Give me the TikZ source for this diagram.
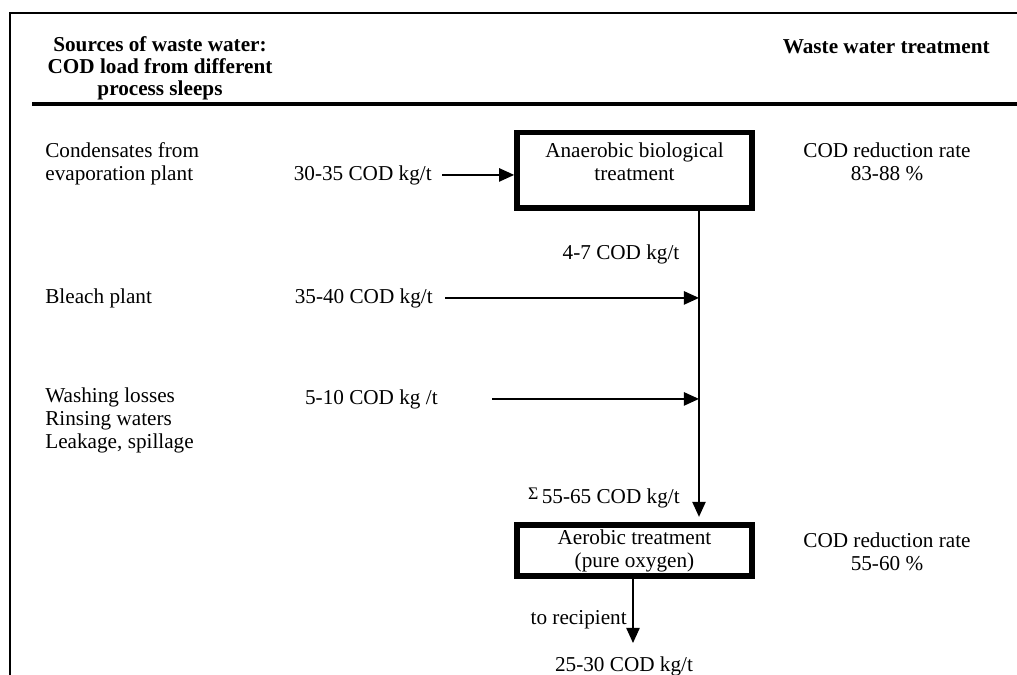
\documentclass[tikz,border=0pt]{standalone}
\usepackage{fontspec}
\setmainfont{Liberation Serif}
\usetikzlibrary{arrows.meta}
\begin{document}
\begin{tikzpicture}[x=0.566pt,y=-0.566pt,
  txt/.style={font=\fontsize{12pt}{13pt}\selectfont, inner sep=0pt},
  hdr/.style={font=\fontsize{12pt}{12.2pt}\selectfont\bfseries, inner sep=0pt, align=center},
  flow/.style={line width=0.9pt, -{Triangle[length=8.5pt,width=7.5pt]}},
  bigbox/.style={draw, line width=3.2pt, inner sep=0pt, minimum width=133pt},
  frameline/.style={line width=0.8pt},
  rule/.style={line width=2.8pt}
]
\useasboundingbox (0,0) rectangle (1017,675);
% frame and header rule
\draw[frameline] (10,675) -- (10,13) -- (1017,13);
\draw[rule] (32,104) -- (1017,104);
% headers (base anchor = baseline of the last line)
\node[hdr, anchor=base] (hleft) at (160,95) {Sources of waste water:\\COD load from different\\process sleeps};
\node[hdr, anchor=base east] (hright) at (990,53) {Waste water treatment};
% trunk coordinates
\coordinate (trunk) at (699,0);
\coordinate (outend) at (633,643);
% boxes
\node[bigbox, minimum height=42.7pt] (anaerobic) at (634.5,170.2) {};
\node[txt, align=center, anchor=base] (anaerobictext) at (634.5,180) {Anaerobic biological\\treatment};
\node[bigbox, minimum height=28.9pt, txt, align=center, draw, line width=3.2pt] (aerobic) at (634.5,550.5) {Aerobic treatment\\(pure oxygen)};
% sources
\node[txt, anchor=base west, align=left] (src1) at (45,180) {Condensates from\\evaporation plant};
\node[txt, anchor=base west] (src2) at (45,303) {Bleach plant};
\node[txt, anchor=base west, align=left] (src3) at (45,448) {Washing losses\\Rinsing waters\\Leakage, spillage};
% loads
\node[txt, anchor=base east] (load1) at (432,180) {30-35 COD kg/t};
\node[txt, anchor=base east] (load2) at (433,303) {35-40 COD kg/t};
\node[txt, anchor=base east] (load3) at (438,404) {5-10 COD kg /t};
\node[txt, anchor=base] (load4) at (621,259) {4-7 COD kg/t};
\node[txt, anchor=base east] (sum) at (680,503) {\raisebox{2.2pt}{\fontsize{10pt}{10pt}\selectfont Σ}\,55-65 COD kg/t};
\node[txt, anchor=base east] (recip) at (627,624) {to recipient};
\node[txt, anchor=base] (final) at (624,671) {25-30 COD kg/t};
% reduction rates
\node[txt, align=center, anchor=base] (rate1) at (887,180) {COD reduction rate\\83-88 \%};
\node[txt, align=center, anchor=base] (rate2) at (887,570) {COD reduction rate\\55-60 \%};
% connectors
\draw[flow, shorten <=5.7pt] (load1.east) -- (load1.east -| anaerobic.west);
\draw[flow] (anaerobic.south -| trunk) -- ([yshift=3pt]aerobic.north -| trunk);
\draw[flow, shorten <=6.8pt] (load2.east) -- (load2.east -| trunk);
\draw[flow, shorten <=30.6pt] (load3.east) -- (load3.east -| trunk);
\draw[flow] (aerobic.south -| outend) -- (outend);
\end{tikzpicture}
\end{document}
